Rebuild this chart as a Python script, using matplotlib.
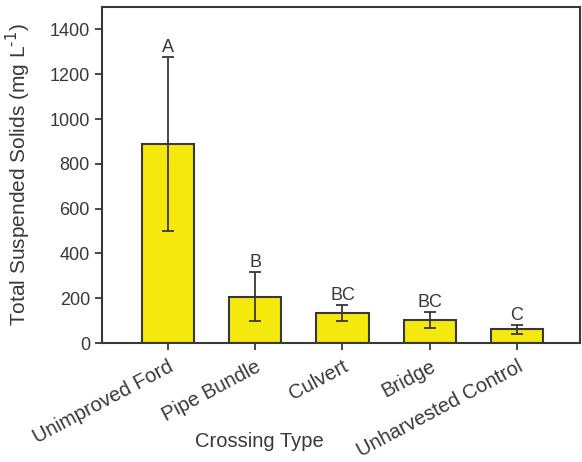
import numpy as np
import matplotlib.pyplot as plt

plt.rcParams['font.family'] = ['Liberation Sans', 'DejaVu Sans']

tipos = ['Unimproved Ford', 'Pipe Bundle', 'Culvert', 'Bridge', 'Unharvested Control']
medias = [888, 207, 133, 101, 62]
errores = [390, 110, 37, 36, 20]
letras = ['A', 'B', 'BC', 'BC', 'C']

gris = '#383838'
amarillo = '#F5E80C'

fig = plt.figure(figsize=(5.82, 4.62), dpi=100)
ax = fig.add_axes([101.7 / 582, 1 - 343 / 462, 478 / 582, 336 / 462])

x = np.arange(len(tipos))
ax.bar(x, medias, width=0.6, color=amarillo, edgecolor=gris, linewidth=1.5, zorder=2)
ax.errorbar(x, medias, yerr=errores, fmt='none', ecolor=gris, elinewidth=1.3,
            capsize=4.3, capthick=1.3, zorder=3)

# letras de significancia sobre las barras de error
for xi, m, e, l in zip(x, medias, errores, letras):
    ax.text(xi, m + e + 4, l, ha='center', va='bottom', fontsize=13, color=gris)

ax.set_xlim(-0.76, 4.72)
ax.set_ylim(0, 1500)
ax.set_yticks(np.arange(0, 1401, 200))
ax.set_xticks(x)
ax.set_xticklabels(tipos, rotation=28, ha='right', rotation_mode='anchor', fontsize=14.5)

for s in ax.spines.values():
    s.set_linewidth(1.5)
    s.set_color(gris)

ax.tick_params(axis='both', direction='out', length=5, width=1.3, color=gris,
               labelcolor=gris)
ax.tick_params(axis='y', labelsize=13)
ax.tick_params(axis='x', pad=5)

ax.set_ylabel('Total Suspended Solids (mg L$^{\\text{-1}}$)', fontsize=15, color=gris)
ax.yaxis.set_label_coords(-0.144, 0.5)
ax.set_xlabel('Crossing Type', fontsize=14.5, color=gris)
ax.xaxis.set_label_coords(0.33, -0.265)

fig.savefig('out.png', dpi=100)
